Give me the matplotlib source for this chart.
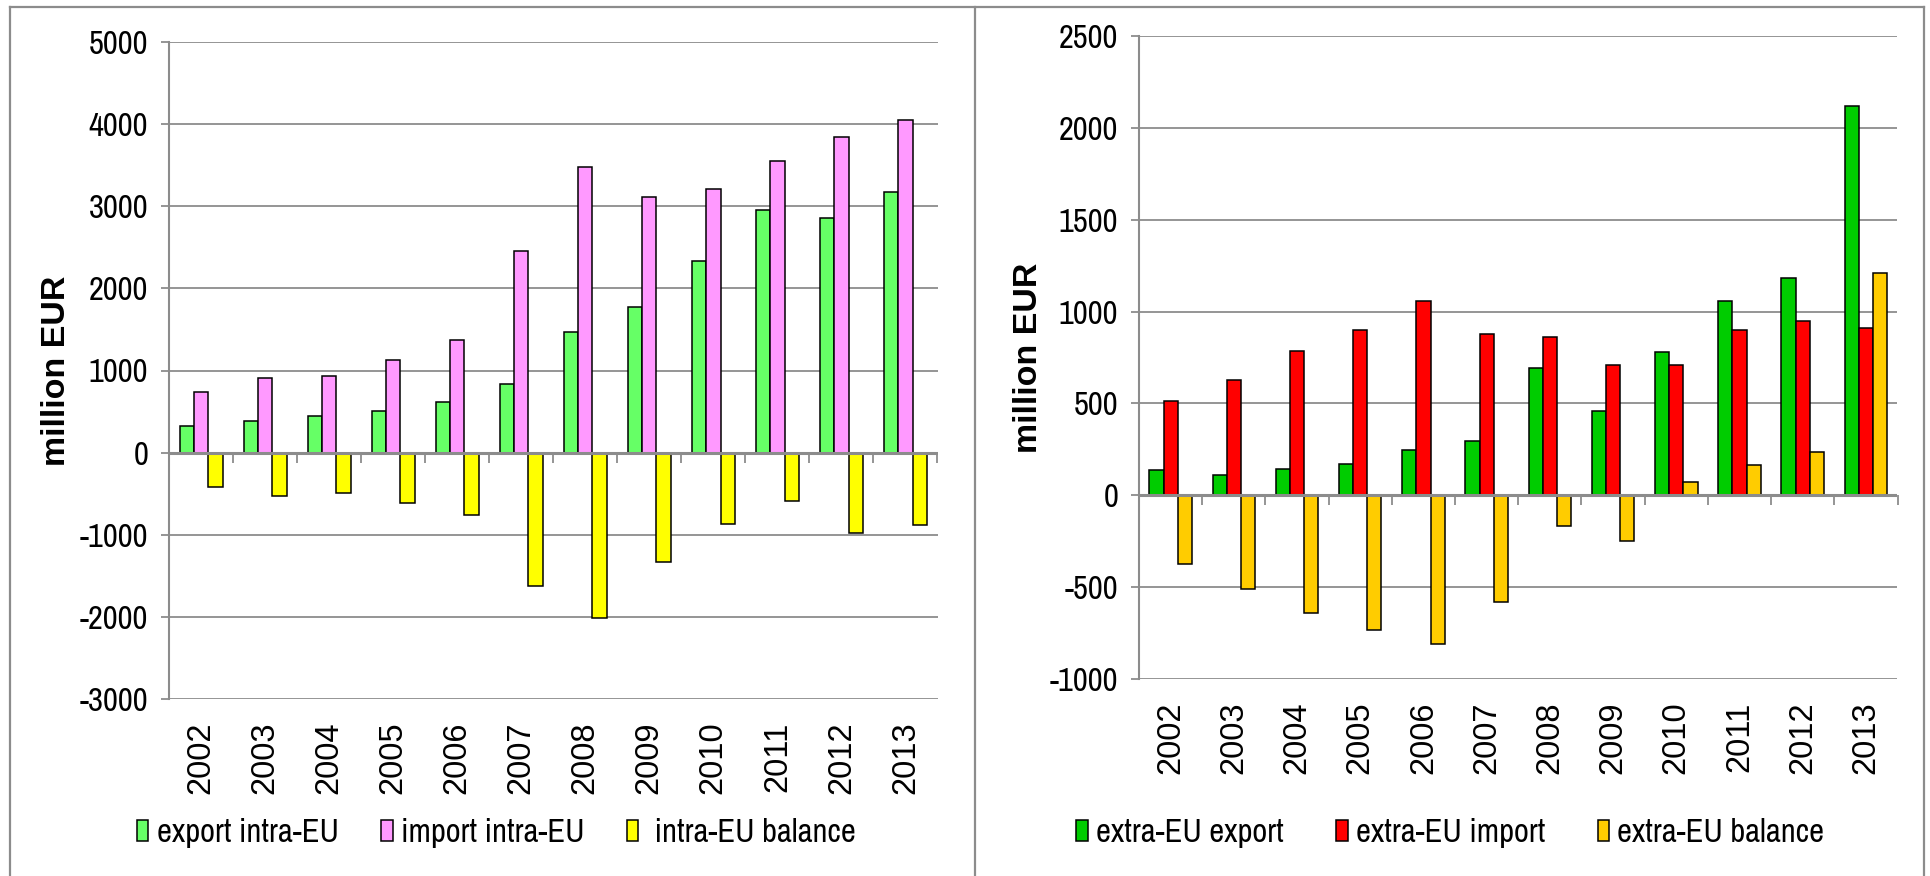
import numpy as np
import matplotlib.pyplot as plt
from matplotlib.lines import Line2D

years = ['2002', '2003', '2004', '2005', '2006', '2007',
         '2008', '2009', '2010', '2011', '2012', '2013']

# intra-EU, million EUR
export_intra = [320, 385, 442, 511, 612, 835, 1463, 1775, 2331, 2958, 2861, 3173]
import_intra = [733, 912, 932, 1122, 1366, 2456, 3477, 3112, 3206, 3550, 3838, 4053]
balance_intra = [-413, -527, -490, -611, -754, -1621, -2014, -1337, -875, -592, -977, -880]

# extra-EU, million EUR
export_extra = [136, 113, 144, 169, 249, 294, 695, 461, 782, 1060, 1181, 2117]
import_extra = [512, 625, 786, 901, 1058, 877, 864, 710, 710, 897, 947, 909]
balance_extra = [-376, -512, -642, -732, -809, -583, -169, -249, 72, 163, 234, 1208]

plt.rcParams['axes.unicode_minus'] = False
narrow = ['Archivo Narrow', 'DejaVu Sans']
grid_col = '#8c8c8c'

fig = plt.figure(figsize=(19.3, 8.76), dpi=100)


def panel(rect, series, labels, colors, ylim, step, zero_frac, leg_x, lab_space):
    ax = fig.add_axes(rect)
    x = np.arange(len(years))
    w = 0.224
    for i, (vals, lab, col) in enumerate(zip(series, labels, colors)):
        ax.bar(x + (i - 1) * w, vals, w, color=col, edgecolor='black',
               linewidth=1.1, label=lab, zorder=3)
    ax.set_xlim(-0.5, len(years) - 0.5)
    ax.set_ylim(*ylim)
    ax.set_yticks(np.arange(ylim[0], ylim[1] + 1, step))
    ax.grid(axis='y', color=grid_col, linewidth=1.3, zorder=0)
    ax.axhline(0, color=grid_col, linewidth=2.2, zorder=4)
    for s in ['top', 'right', 'bottom']:
        ax.spines[s].set_visible(False)
    ax.spines['left'].set_color(grid_col)
    ax.spines['left'].set_linewidth(1.5)
    ax.tick_params(axis='y', color=grid_col, length=6, width=1.3, pad=9)
    ax.tick_params(axis='x', length=0, pad=16)
    ax.set_xticks(x)
    ax.set_xticklabels(years, rotation=90, fontsize=23.5, family='Liberation Sans')
    for t in ax.get_yticklabels():
        t.set_fontsize(23.5)
        t.set_family(narrow)
    # category boundary ticks on the zero line
    sec = ax.secondary_xaxis(zero_frac)
    sec.set_xticks(np.arange(-0.5, len(years), 1.0))
    sec.set_xticklabels([])
    sec.tick_params(direction='out', length=7, color=grid_col, width=1.3)
    sec.spines['bottom'].set_visible(False)
    ax.set_ylabel('million EUR', fontsize=24.5, fontweight='bold',
                  family='Liberation Sans', va='center')
    ax.yaxis.set_label_coords(-0.146, 0.5)
    fig.legend(*ax.get_legend_handles_labels(), loc='center',
               bbox_to_anchor=(leg_x, 0.049), ncol=3, frameon=False,
               handlelength=0.36, handleheight=0.6, handletextpad=0.25,
               columnspacing=lab_space, prop={'family': narrow, 'size': 23.5})
    return ax


panel([169 / 1930, 1 - 699 / 876, 768.5 / 1930, 657 / 876],
      [export_intra, import_intra, balance_intra],
      ['export intra-EU', 'import intra-EU', ' intra-EU balance'],
      ['#66ff66', '#ff99ff', '#ffff00'],
      (-3000, 5000), 1000, 3 / 8, 0.257, 1.3)

panel([1139 / 1930, 1 - 679 / 876, 758.5 / 1930, 643 / 876],
      [export_extra, import_extra, balance_extra],
      ['extra-EU export', 'extra-EU import', 'extra-EU balance'],
      ['#00cc00', '#ff0000', '#ffcc00'],
      (-1000, 2500), 500, 1000 / 3500, 0.7515, 1.6)

# panel frames
W, H = 1930, 876
frame = dict(color='#8c8c8c', linewidth=1.6, transform=fig.transFigure)
fig.add_artist(Line2D([10 / W, 1924 / W], [1 - 7 / H, 1 - 7 / H], **frame))
fig.add_artist(Line2D([10 / W, 10 / W], [0, 1 - 7 / H], **frame))
fig.add_artist(Line2D([975 / W, 975 / W], [0, 1 - 7 / H], **frame))
fig.add_artist(Line2D([1924 / W, 1924 / W], [0, 1 - 7 / H], **frame))

fig.savefig('out.png', dpi=100)
